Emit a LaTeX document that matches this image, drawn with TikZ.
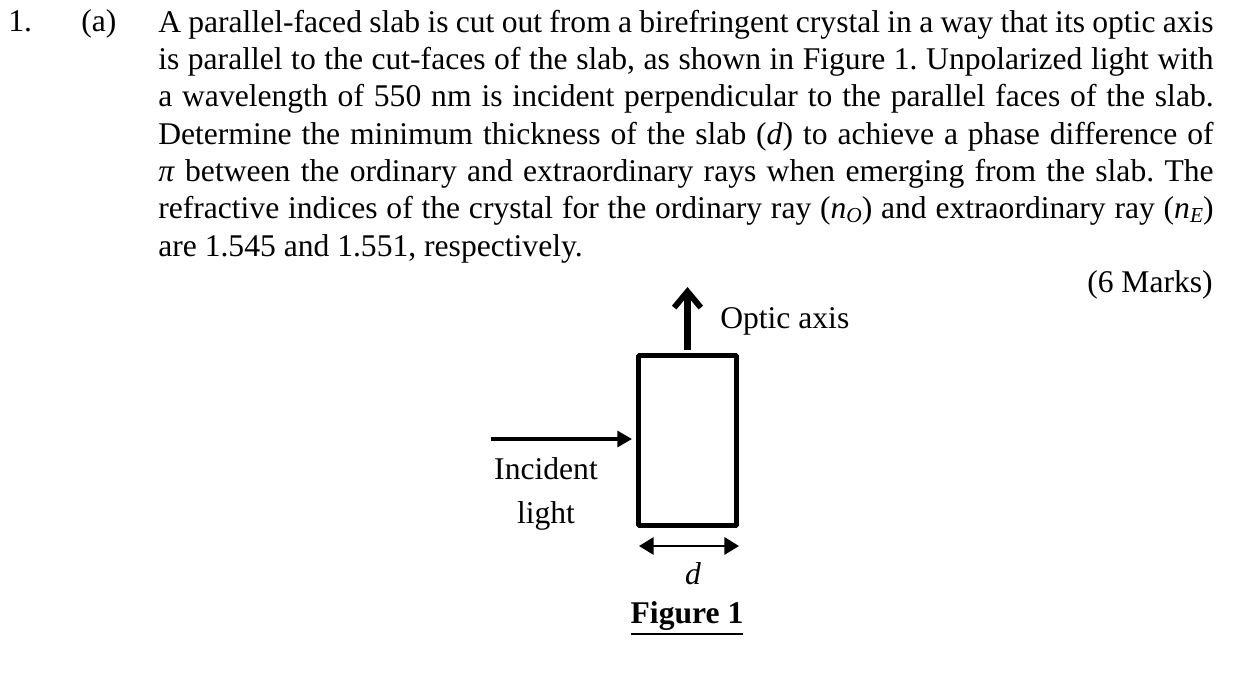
\documentclass[tikz,border=0pt]{standalone}
\usepackage{fontspec}
\setmainfont{Liberation Serif}
\usetikzlibrary{arrows.meta}

\newcommand{\subtext}[1]{\raisebox{-0.28ex}{\fontsize{16}{16}\selectfont\textit{#1}}}
\newcommand{\ruledtext}[1]{\vtop{\hbox{#1}\kern2.6pt\hrule height 1.5pt}}

\tikzset{
  bodytext/.style={anchor=base west,inner sep=0pt,font=\fontsize{23.7}{28}\selectfont},
  parablock/.style={bodytext,anchor=north west,text width=791.5pt,align=justify},
  lighttip/.style={-{Triangle[length=11pt,width=12pt]}},
  slabbox/.style={draw,line width=3.5pt,rounded corners=0.6pt,inner sep=0pt,minimum width=73.5pt,minimum height=127.5pt}
}

\begin{document}
\frenchspacing
\begin{tikzpicture}[x=0.75pt,y=0.75pt,yscale=-1,xscale=1]
\useasboundingbox (0,0) rectangle (1250,688);

% Question text
\node[bodytext] (qnum) at (8,32) {1.};
\node[bodytext] (qpart) at (81,32) {(a)};
\node[parablock] (para) at (158,9.5) {A parallel-faced slab is cut out from a birefringent crystal in a way that its optic axis\linebreak
is parallel to the cut-faces of the slab, as shown in Figure 1. Unpolarized light with\linebreak
a wavelength of 550 nm is incident perpendicular to the parallel faces of the slab.\linebreak
Determine the minimum thickness of the slab (\textit{d}) to achieve a phase difference of\linebreak
\textit{π} between the ordinary and extraordinary rays when emerging from the slab. The\linebreak
refractive indices of the crystal for the ordinary ray (\textit{n}\subtext{O}) and extraordinary ray (\textit{n}\subtext{E})\linebreak
are 1.545 and 1.551, respectively.\par};
\node[bodytext,anchor=base east] (marks) at (1213,292) {(6 Marks)};

% Slab
\node[slabbox] (slab) at (687.5,440.5) {};
\coordinate (axistop) at (687.5,287);
\coordinate (lightstart) at (491,439);
\coordinate (lightend) at (632,439);
\coordinate (dleft) at (639,546);
\coordinate (dright) at (739,546);

\draw [line width=4.8pt,-{Straight Barb[length=12pt,width=20pt,line width=4.4pt]}] (slab.north |- 0,350) -- (axistop);
\draw [line width=2.3pt,lighttip] (lightstart) -- (lightend);
\draw [line width=1.8pt,{Triangle[length=11pt,width=13pt]}-{Triangle[length=11pt,width=13pt]}] (dleft) -- (dright);

% Labels
\node[bodytext] (axislabel) at (720,328) {Optic axis};
\node[bodytext,anchor=base] (inclabel) at (546,479) {Incident};
\node[bodytext,anchor=base] (lightlabel) at (546,523) {light};
\node[bodytext,anchor=base] (dlabel) at (693,584) {\textit{d}};
\node[bodytext,anchor=base] (figlabel) at (687,623) {\ruledtext{\textbf{Figure 1}}};
\end{tikzpicture}
\end{document}
